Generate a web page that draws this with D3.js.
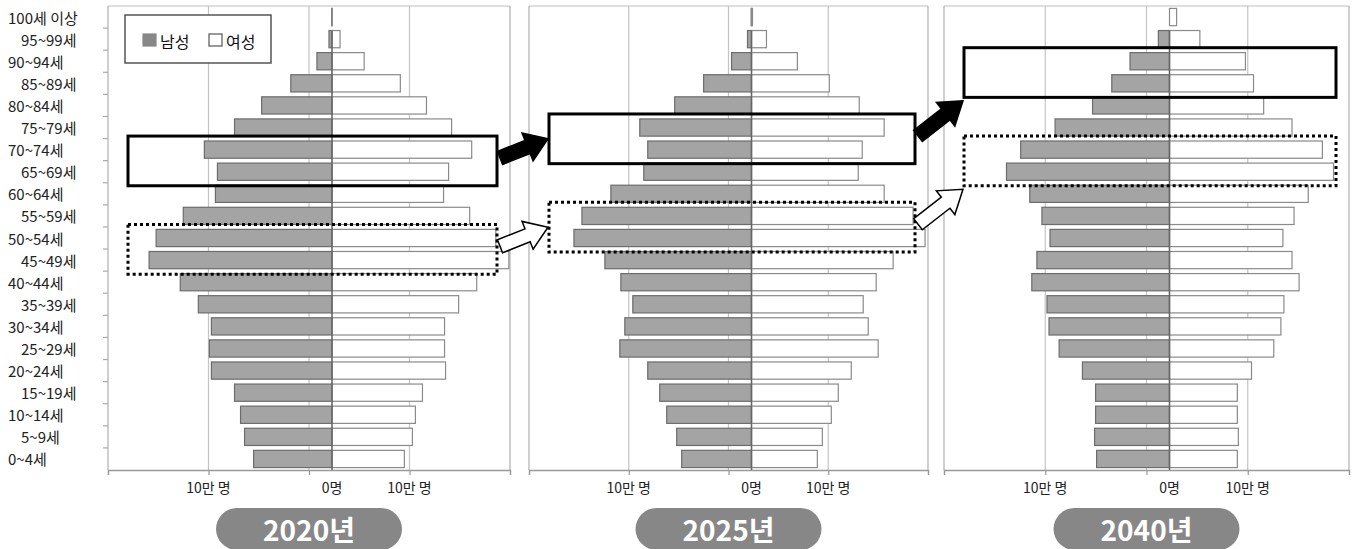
<!DOCTYPE html>
<html><head><meta charset="utf-8">
<script src="https://cdn.jsdelivr.net/npm/d3@7"></script>
<style>
body{margin:0;background:#fff}
svg{display:block}
text{font-family:"Noto Sans CJK KR","Noto Sans",sans-serif}
</style></head>
<body><svg id="c" width="1356" height="549"></svg>
<script>
// ---- data (thousand persons) ----
const ageGroups = ["100세 이상","95~99세","90~94세","85~89세","80~84세","75~79세","70~74세","65~69세","60~64세","55~59세","50~54세","45~49세","40~44세","35~39세","30~34세","25~29세","20~24세","15~19세","10~14세","5~9세","0~4세"];
const years = ["2020년","2025년","2040년"];
const male2020   = [0.3,3,15,41,70,97,127,114,116,148,175,182,151,133,120,122,120,97,91,87,78];
const female2020 = [0.3,8,32,68,94,119,139,116,111,137,163,176,144,126,112,112,113,90,83,80,72];
const male2025   = [0.3,4,20,48,77,112,104,108,141,170,178,147,131,119,127,132,104,92,85,75,70];
const female2025 = [1,15,46,78,108,133,111,107,133,162,174,142,125,112,117,127,100,87,80,71,66];
const male2040   = [0,11,39,57,76,113,147,161,138,126,118,131,136,121,119,109,86,73,73,74,72];
const female2040 = [7,30,75,83,93,121,151,162,137,123,112,121,128,113,110,103,81,67,67,68,67];
const gridTicks = [-200,-100,0,100,200];
const xTickLabels = ["10만 명","0명","10만 명"];
const legendLabels = ["남성","여성"];
const solidRows  = [["70~74세","65~69세"],["75~79세","70~74세"],["90~94세","85~89세"]];
const dottedRows = [["50~54세","45~49세"],["55~59세","50~54세"],["70~74세","65~69세"]];

const maleSeries = [male2020, male2025, male2040];
const femaleSeries = [female2020, female2025, female2040];

// ---- layout ----
const svg = d3.select("#c");
const yTop = 6, yBottom = 470;
const panelRanges = [[108,510],[529,928],[944,1349]];
const zeroShift = 23;
const y = d3.scaleBand().domain(ageGroups).range([yTop,yBottom]).paddingInner(0.22).paddingOuter(0.11);
const step = y.step();
const rowStart = a => y(a) - step*0.11;

const boxes = [];

panelRanges.forEach((rng, i) => {
  const gx = d3.scaleLinear().domain([-200,200]).range(rng);
  const k = (rng[1]-rng[0])/400;
  const zero = gx(0) + zeroShift;
  const bx = d3.scaleLinear().domain([-200,200]).range([zero-200*k, zero+200*k]);
  const g = svg.append("g");

  g.selectAll("line.grid").data(gridTicks.slice(1,-1)).join("line")
    .attr("x1", d=>gx(d)).attr("x2", d=>gx(d)).attr("y1", yTop).attr("y2", yBottom)
    .attr("stroke", "#c4c4c4").attr("stroke-width", 1.2);
  g.append("line").attr("x1", rng[0]).attr("x2", rng[1]).attr("y1", yTop).attr("y2", yTop).attr("stroke","#c0c0c0").attr("stroke-width",1.2);
  g.append("line").attr("x1", rng[0]).attr("x2", rng[0]).attr("y1", yTop).attr("y2", yBottom).attr("stroke","#b0b0b0").attr("stroke-width",1.2);
  g.append("line").attr("x1", rng[1]).attr("x2", rng[1]).attr("y1", yTop).attr("y2", yBottom).attr("stroke","#b0b0b0").attr("stroke-width",1.2);

  const ax = g.append("g").attr("transform", `translate(0,${yBottom})`)
    .call(d3.axisBottom(gx).tickValues(gridTicks).tickSize(5).tickFormat(""));
  ax.select(".domain").attr("stroke","#999").attr("stroke-width",1.3);
  ax.selectAll(".tick line").attr("stroke","#999").attr("stroke-width",1.2);

  const rows = ageGroups.map((a,j)=>({a, m:maleSeries[i][j], f:femaleSeries[i][j]}));
  g.selectAll("rect.male").data(rows).join("rect")
    .attr("x", d=>bx(-d.m)).attr("width", d=>bx(0)-bx(-d.m))
    .attr("y", d=>y(d.a)).attr("height", y.bandwidth())
    .attr("fill","#a4a4a4").attr("stroke","#6c6c6c").attr("stroke-width",1.2);
  g.selectAll("rect.female").data(rows).join("rect")
    .attr("x", bx(0)).attr("width", d=>bx(d.f)-bx(0))
    .attr("y", d=>y(d.a)).attr("height", y.bandwidth())
    .attr("fill","#fff").attr("stroke","#8a8a8a").attr("stroke-width",1.2);
  g.append("line").attr("x1", bx(0)).attr("x2", bx(0))
    .attr("y1", y(ageGroups[1])).attr("y2", yBottom)
    .attr("stroke","#666").attr("stroke-width",1.6);

  const labPos = [gx(-100), bx(0), gx(100)];
  g.selectAll("text.xl").data(xTickLabels).join("text")
    .attr("x", (d,j)=>labPos[j]).attr("y", 487)
    .attr("text-anchor","middle").attr("dominant-baseline","central")
    .attr("font-size", 14).attr("fill","#222").text(d=>d);

  const pw = 186, ph = 42;
  g.append("rect").attr("x", gx(0)-pw/2).attr("y", 508).attr("width", pw).attr("height", ph)
    .attr("rx", 21).attr("fill", "#878787");
  g.append("text").attr("x", gx(0)).attr("y", 529).attr("text-anchor","middle")
    .attr("dominant-baseline","central").attr("font-size", 28).attr("font-weight","bold")
    .attr("fill","#fff").text(years[i]);

  const mk = (rowsSel) => {
    const y0 = rowStart(rowsSel[0]) - 2.5;
    const y1 = rowStart(rowsSel[1]) + step + 3;
    return {x0: rng[0]+20, x1: rng[1]-13, y0, y1, cy:(y0+y1)/2};
  };
  const sb = mk(solidRows[i]), db = mk(dottedRows[i]);
  boxes.push({solid: sb, dotted: db});
  g.append("rect").attr("x", sb.x0).attr("y", sb.y0).attr("width", sb.x1-sb.x0).attr("height", sb.y1-sb.y0)
    .attr("fill","none").attr("stroke","#000").attr("stroke-width",3);
  g.append("rect").attr("x", db.x0).attr("y", db.y0).attr("width", db.x1-db.x0).attr("height", db.y1-db.y0)
    .attr("fill","none").attr("stroke","#000").attr("stroke-width",3).attr("stroke-dasharray","3,3");
});

svg.selectAll("text.cat").data(ageGroups).join("text")
  .attr("x", (d,j)=> j%2===0 ? 8 : 21)
  .attr("y", d=>y(d)+y.bandwidth()/2)
  .attr("dominant-baseline","central").attr("font-size",15).attr("fill","#222").text(d=>d);
svg.selectAll("line.ct").data(ageGroups.slice(1)).join("line")
  .attr("x1", 103).attr("x2", 108).attr("y1", d=>rowStart(d)).attr("y2", d=>rowStart(d))
  .attr("stroke","#aaa").attr("stroke-width",1.2);

const lg = svg.append("g");
lg.append("rect").attr("x",125).attr("y",15).attr("width",146).attr("height",48)
  .attr("fill","#fff").attr("stroke","#555").attr("stroke-width",1.5);
const lgX = [143, 209];
legendLabels.forEach((t,j)=>{
  lg.append("rect").attr("x", lgX[j]).attr("y", 34).attr("width", 13).attr("height", 12)
    .attr("fill", j===0 ? "#888" : "#fff").attr("stroke", j===0 ? "#888" : "#555").attr("stroke-width",1.2);
  lg.append("text").attr("x", lgX[j]+17).attr("y", 40.5).attr("dominant-baseline","central")
    .attr("font-size",16).attr("fill","#111").text(t);
});

function arrow(x1,y1,x2,y2,fill){
  const L = Math.hypot(x2-x1,y2-y1), ang = Math.atan2(y2-y1,x2-x1)*180/Math.PI;
  const s=7, h=15, hl=22;
  const pts = [[0,-s],[L-hl,-s],[L-hl,-h],[L,0],[L-hl,h],[L-hl,s],[0,s]];
  svg.append("polygon").attr("points", pts.map(p=>p.join(",")).join(" "))
    .attr("transform", `translate(${x1},${y1}) rotate(${ang})`)
    .attr("fill", fill).attr("stroke","#000").attr("stroke-width",1.5).attr("stroke-linejoin","miter");
}
for (let i=0;i<2;i++){
  ["solid","dotted"].forEach(kind=>{
    const a = boxes[i][kind], b = boxes[i+1][kind];
    const tx = a.x1+3, ty = a.cy-3;
    const hx = b.x0-1, hy = Math.max(b.cy, ty-35);
    arrow(tx,ty,hx,hy, kind==="solid" ? "#000" : "#fff");
  });
}
</script></body></html>
